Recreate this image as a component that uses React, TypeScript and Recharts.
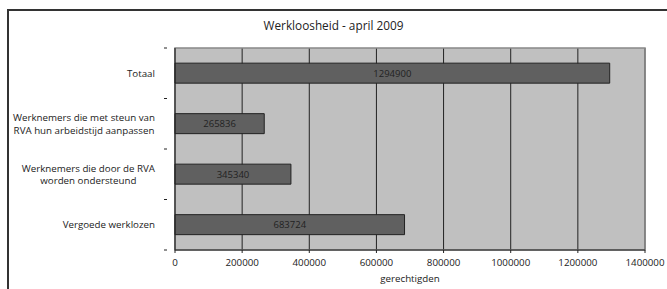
import React from "react";
import { BarChart, Bar, XAxis, YAxis, CartesianGrid, LabelList, ReferenceArea } from "recharts";

const categories = [
  "Totaal",
  "Werknemers die met steun van\nRVA hun arbeidstijd aanpassen",
  "Werknemers die door de RVA\nworden ondersteund",
  "Vergoede werklozen",
];
const values = [1294900, 265836, 345340, 683724];
const xTicks = [0, 200000, 400000, 600000, 800000, 1000000, 1200000, 1400000];

const data = categories.map((c, i) => ({ name: c, value: values[i] }));

const W = 667;
const H = 289;
const MARGIN = { top: 48, right: 22, bottom: 7, left: 10 };
const X_AXIS_H = 32;
const FONT = "'Open Sans', sans-serif";
const FS = 9.75;
const PLOT_H = H - MARGIN.top - MARGIN.bottom - X_AXIS_H;
const BAND = PLOT_H / categories.length;

let ctx: CanvasRenderingContext2D | null = null;
function measure(t: string, size: number) {
  if (!ctx) {
    const c = document.createElement("canvas");
    ctx = c.getContext("2d");
  }
  if (!ctx) return t.length * size * 0.55;
  ctx.font = `${size}px 'Open Sans'`;
  return ctx.measureText(t).width;
}

const YTick = (props: any) => {
  const { x, y, payload, index } = props;
  const lines = String(payload.value).split("\n");
  const maxW = Math.max(...lines.map((l) => measure(l, FS)));
  const right = x - 12;
  const cx = right - maxW / 2;
  const lh = 12.5;
  const startY = y - ((lines.length - 1) * lh) / 2;
  const axisX = x;
  return (
    <g>
      <line x1={axisX - 3} x2={axisX} y1={y - BAND / 2} y2={y - BAND / 2} stroke="#222" />
      {index === categories.length - 1 && (
        <line x1={axisX - 3} x2={axisX} y1={y + BAND / 2} y2={y + BAND / 2} stroke="#222" />
      )}
      {lines.map((l, i) => (
        <text
          key={i}
          x={cx}
          y={startY + i * lh}
          textAnchor="middle"
          dominantBaseline="central"
          fontSize={FS}
          fontFamily={FONT}
          fill="#222"
        >
          {l}
        </text>
      ))}
    </g>
  );
};

export default function App() {
  return (
    <div style={{ position: "absolute", left: 0, top: 0, width: W, height: H, background: "#fff" }}>
      <div
        style={{
          position: "absolute",
          left: 7,
          top: 9,
          width: W,
          height: H,
          borderLeft: "2px solid #333",
          borderTop: "2px solid #333",
        }}
      />
      <div
        style={{
          position: "absolute",
          left: 0,
          top: 17,
          width: W,
          textAlign: "center",
          fontFamily: FONT,
          fontSize: 11.8,
          color: "#222",
        }}
      >
        Werkloosheid - april 2009
      </div>
      <div style={{ position: "absolute", left: 0, top: 0 }}>
        <BarChart
          width={W}
          height={H}
          data={data}
          layout="vertical"
          margin={MARGIN}
          barCategoryGap="30%"
        >
          <CartesianGrid fill="#c0c0c0" stroke="#222" horizontal={false} strokeOpacity={1} />
          <ReferenceArea x1={0} x2={1400000} stroke="#888" strokeWidth={1.5} fill="none" fillOpacity={0} ifOverflow="visible" />
          <XAxis
            type="number"
            domain={[0, 1400000]}
            ticks={xTicks}
            interval={0}
            stroke="#222"
            tickSize={3}
            tickMargin={6}
            height={X_AXIS_H}
            tick={{ fontSize: FS, fontFamily: FONT, fill: "#222" }}
            label={{ value: "gerechtigden", position: "insideBottom", offset: 0, fontSize: FS, fontFamily: FONT, fill: "#222" }}
          />
          <YAxis
            type="category"
            dataKey="name"
            width={165}
            stroke="#222"
            tickLine={false}
            interval={0}
            tick={<YTick />}
          />
          <Bar dataKey="value" fill="#606060" stroke="#222" strokeWidth={1} isAnimationActive={false}>
            <LabelList dataKey="value" position="center" fontSize={9.5} fontFamily={FONT} fill="#222" />
          </Bar>
        </BarChart>
      </div>
    </div>
  );
}
